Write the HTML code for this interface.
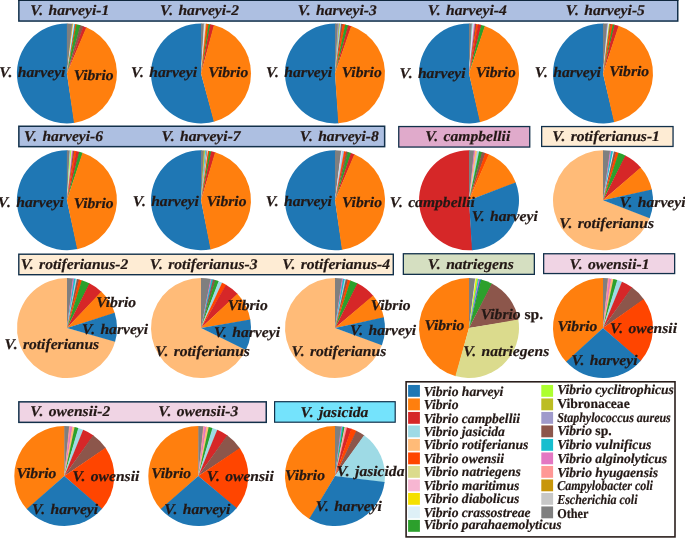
<!DOCTYPE html>
<html><head><meta charset="utf-8"><title>Vibrio pies</title>
<style>html,body{margin:0;padding:0;background:#fff}svg{display:block}text{font-family:"Liberation Serif","Times New Roman",serif;font-weight:bold;font-style:italic;fill:#231815;stroke:#231815;stroke-width:0.2px;text-rendering:geometricPrecision}.n{font-style:normal}</style></head><body>
<svg width="685" height="538" viewBox="0 0 685 538">
<rect width="685" height="538" fill="#fff"/>
<rect x="18.85" y="0.05" width="658.90" height="21.00" fill="#adbfe1" stroke="#12304a" stroke-width="1.5"/>
<rect x="18.85" y="126.25" width="365.80" height="20.40" fill="#adbfe1" stroke="#12304a" stroke-width="1.5"/>
<rect x="398.75" y="126.55" width="131.00" height="20.50" fill="#e0aacb" stroke="#12304a" stroke-width="1.3"/>
<rect x="541.65" y="126.55" width="131.40" height="19.90" fill="#feecd4" stroke="#12304a" stroke-width="1.3"/>
<rect x="18.80" y="254.20" width="374.50" height="20.50" fill="#feecd4" stroke="#12304a" stroke-width="1.4"/>
<rect x="403.35" y="253.75" width="131.00" height="20.60" fill="#d5dfc1" stroke="#12304a" stroke-width="1.3"/>
<rect x="543.65" y="253.75" width="131.00" height="19.80" fill="#f0d4e4" stroke="#12304a" stroke-width="1.3"/>
<rect x="18.85" y="401.85" width="247.40" height="20.50" fill="#f0d4e4" stroke="#12304a" stroke-width="1.5"/>
<rect x="274.60" y="401.70" width="120.60" height="20.50" fill="#74e3fc" stroke="#12304a" stroke-width="1.2"/>
<rect x="406.10" y="381.80" width="268.90" height="155.10" fill="#ffffff" stroke="#2a1e1c" stroke-width="1.6"/>
<rect x="18.1" y="-1" width="660.4" height="1.85" fill="#0b2236"/>
<path d="M66.90,73.40L74.55,122.81A50.0,50.0 0 1 1 67.42,23.40Z" fill="#1f77b4"/>
<path d="M66.90,73.40L66.90,23.40A50.0,50.0 0 0 1 72.56,23.72Z" fill="#7f7f7f"/>
<path d="M66.90,73.40L72.04,23.66A50.0,50.0 0 0 1 73.34,23.82Z" fill="#bcbd22"/>
<path d="M66.90,73.40L72.82,23.75A50.0,50.0 0 0 1 74.03,23.91Z" fill="#f7b6d2"/>
<path d="M66.90,73.40L73.51,23.84A50.0,50.0 0 0 1 74.89,24.04Z" fill="#def0f7"/>
<path d="M66.90,73.40L74.38,23.96A50.0,50.0 0 0 1 75.75,24.19Z" fill="#17becf"/>
<path d="M66.90,73.40L75.24,24.10A50.0,50.0 0 0 1 76.95,24.42Z" fill="#ff4500"/>
<path d="M66.90,73.40L76.44,24.32A50.0,50.0 0 0 1 80.77,25.36Z" fill="#2ca02c"/>
<path d="M66.90,73.40L80.26,25.22A50.0,50.0 0 0 1 83.75,26.33Z" fill="#8c564b"/>
<path d="M66.90,73.40L83.26,26.15A50.0,50.0 0 0 1 86.76,27.51Z" fill="#d62728"/>
<path d="M66.90,73.40L86.28,27.31A50.0,50.0 0 0 1 74.03,122.89Z" fill="#ff7f0e"/>
<path d="M201.00,73.40L214.36,121.58A50.0,50.0 0 1 1 201.52,23.40Z" fill="#1f77b4"/>
<path d="M201.00,73.40L201.00,23.40A50.0,50.0 0 0 1 204.31,23.51Z" fill="#7f7f7f"/>
<path d="M201.00,73.40L203.79,23.48A50.0,50.0 0 0 1 205.01,23.56Z" fill="#c7c7c7"/>
<path d="M201.00,73.40L204.49,23.52A50.0,50.0 0 0 1 205.71,23.62Z" fill="#def0f7"/>
<path d="M201.00,73.40L205.18,23.58A50.0,50.0 0 0 1 206.40,23.69Z" fill="#f7b6d2"/>
<path d="M201.00,73.40L205.88,23.64A50.0,50.0 0 0 1 207.09,23.77Z" fill="#bcbd22"/>
<path d="M201.00,73.40L206.57,23.71A50.0,50.0 0 0 1 209.08,24.06Z" fill="#ff4500"/>
<path d="M201.00,73.40L208.56,23.98A50.0,50.0 0 0 1 210.80,24.37Z" fill="#2ca02c"/>
<path d="M201.00,73.40L210.28,24.27A50.0,50.0 0 0 1 214.36,25.22Z" fill="#d62728"/>
<path d="M201.00,73.40L213.86,25.08A50.0,50.0 0 0 1 213.86,121.72Z" fill="#ff7f0e"/>
<path d="M335.00,73.40L338.84,123.25A50.0,50.0 0 1 1 335.52,23.40Z" fill="#1f77b4"/>
<path d="M335.00,73.40L335.00,23.40A50.0,50.0 0 0 1 338.31,23.51Z" fill="#7f7f7f"/>
<path d="M335.00,73.40L337.79,23.48A50.0,50.0 0 0 1 339.53,23.61Z" fill="#9f9acb"/>
<path d="M335.00,73.40L339.01,23.56A50.0,50.0 0 0 1 340.31,23.68Z" fill="#bcbd22"/>
<path d="M335.00,73.40L339.79,23.63A50.0,50.0 0 0 1 341.70,23.85Z" fill="#9edae5"/>
<path d="M335.00,73.40L341.18,23.78A50.0,50.0 0 0 1 343.25,24.09Z" fill="#8c564b"/>
<path d="M335.00,73.40L342.74,24.00A50.0,50.0 0 0 1 345.65,24.55Z" fill="#ff4500"/>
<path d="M335.00,73.40L345.14,24.44A50.0,50.0 0 0 1 348.61,25.29Z" fill="#2ca02c"/>
<path d="M335.00,73.40L348.11,25.15A50.0,50.0 0 0 1 351.61,26.24Z" fill="#d62728"/>
<path d="M335.00,73.40L351.11,26.07A50.0,50.0 0 0 1 338.31,123.29Z" fill="#ff7f0e"/>
<path d="M469.00,73.40L480.50,122.06A50.0,50.0 0 1 1 469.52,23.40Z" fill="#1f77b4"/>
<path d="M469.00,73.40L469.00,23.40A50.0,50.0 0 0 1 472.31,23.51Z" fill="#7f7f7f"/>
<path d="M469.00,73.40L471.79,23.48A50.0,50.0 0 0 1 473.36,23.59Z" fill="#9edae5"/>
<path d="M469.00,73.40L472.84,23.55A50.0,50.0 0 0 1 474.40,23.69Z" fill="#def0f7"/>
<path d="M469.00,73.40L473.88,23.64A50.0,50.0 0 0 1 475.61,23.84Z" fill="#e377c2"/>
<path d="M469.00,73.40L475.09,23.77A50.0,50.0 0 0 1 476.82,24.02Z" fill="#8c564b"/>
<path d="M469.00,73.40L476.30,23.94A50.0,50.0 0 0 1 478.71,24.35Z" fill="#ff4500"/>
<path d="M469.00,73.40L478.20,24.25A50.0,50.0 0 0 1 481.69,25.04Z" fill="#d62728"/>
<path d="M469.00,73.40L481.18,24.91A50.0,50.0 0 0 1 485.20,26.10Z" fill="#2ca02c"/>
<path d="M469.00,73.40L484.70,25.93A50.0,50.0 0 0 1 479.99,122.18Z" fill="#ff7f0e"/>
<path d="M603.00,73.40L614.59,122.04A50.0,50.0 0 1 1 603.52,23.40Z" fill="#1f77b4"/>
<path d="M603.00,73.40L603.00,23.40A50.0,50.0 0 0 1 607.53,23.61Z" fill="#7f7f7f"/>
<path d="M603.00,73.40L607.01,23.56A50.0,50.0 0 0 1 608.40,23.69Z" fill="#9f9acb"/>
<path d="M603.00,73.40L607.88,23.64A50.0,50.0 0 0 1 609.53,23.83Z" fill="#def0f7"/>
<path d="M603.00,73.40L609.01,23.76A50.0,50.0 0 0 1 610.48,23.96Z" fill="#bcbd22"/>
<path d="M603.00,73.40L609.96,23.89A50.0,50.0 0 0 1 611.34,24.10Z" fill="#8c564b"/>
<path d="M603.00,73.40L610.82,24.02A50.0,50.0 0 0 1 613.31,24.47Z" fill="#ff4500"/>
<path d="M603.00,73.40L612.80,24.37A50.0,50.0 0 0 1 614.93,24.84Z" fill="#2ca02c"/>
<path d="M603.00,73.40L614.42,24.72A50.0,50.0 0 0 1 619.03,26.04Z" fill="#d62728"/>
<path d="M603.00,73.40L618.53,25.87A50.0,50.0 0 0 1 614.08,122.16Z" fill="#ff7f0e"/>
<path d="M66.90,200.30L77.72,249.11A50.0,50.0 0 1 1 67.42,150.30Z" fill="#1f77b4"/>
<path d="M66.90,200.30L66.90,150.30A50.0,50.0 0 0 1 70.13,150.40Z" fill="#7f7f7f"/>
<path d="M66.90,200.30L69.60,150.37A50.0,50.0 0 0 1 70.82,150.45Z" fill="#9edae5"/>
<path d="M66.90,200.30L70.30,150.42A50.0,50.0 0 0 1 71.78,150.54Z" fill="#adff2f"/>
<path d="M66.90,200.30L71.26,150.49A50.0,50.0 0 0 1 72.39,150.60Z" fill="#def0f7"/>
<path d="M66.90,200.30L71.87,150.55A50.0,50.0 0 0 1 73.51,150.74Z" fill="#e377c2"/>
<path d="M66.90,200.30L72.99,150.67A50.0,50.0 0 0 1 74.72,150.92Z" fill="#8c564b"/>
<path d="M66.90,200.30L74.20,150.84A50.0,50.0 0 0 1 76.78,151.29Z" fill="#ff4500"/>
<path d="M66.90,200.30L76.27,151.19A50.0,50.0 0 0 1 79.59,151.94Z" fill="#d62728"/>
<path d="M66.90,200.30L79.08,151.81A50.0,50.0 0 0 1 82.93,152.94Z" fill="#2ca02c"/>
<path d="M66.90,200.30L82.43,152.77A50.0,50.0 0 0 1 77.21,249.23Z" fill="#ff7f0e"/>
<path d="M201.00,200.30L211.05,249.28A50.0,50.0 0 1 1 201.52,150.30Z" fill="#1f77b4"/>
<path d="M201.00,200.30L201.00,150.30A50.0,50.0 0 0 1 204.31,150.41Z" fill="#7f7f7f"/>
<path d="M201.00,200.30L203.79,150.38A50.0,50.0 0 0 1 205.36,150.49Z" fill="#bcbd22"/>
<path d="M201.00,200.30L204.84,150.45A50.0,50.0 0 0 1 205.79,150.53Z" fill="#c7c7c7"/>
<path d="M201.00,200.30L205.27,150.48A50.0,50.0 0 0 1 206.49,150.60Z" fill="#17becf"/>
<path d="M201.00,200.30L205.97,150.55A50.0,50.0 0 0 1 207.09,150.67Z" fill="#def0f7"/>
<path d="M201.00,200.30L206.57,150.61A50.0,50.0 0 0 1 207.70,150.75Z" fill="#8c564b"/>
<path d="M201.00,200.30L207.18,150.68A50.0,50.0 0 0 1 208.48,150.86Z" fill="#def0f7"/>
<path d="M201.00,200.30L207.96,150.79A50.0,50.0 0 0 1 209.85,151.09Z" fill="#ff4500"/>
<path d="M201.00,200.30L209.34,151.00A50.0,50.0 0 0 1 211.74,151.47Z" fill="#2ca02c"/>
<path d="M201.00,200.30L211.22,151.36A50.0,50.0 0 0 1 215.54,152.46Z" fill="#d62728"/>
<path d="M201.00,200.30L215.03,152.31A50.0,50.0 0 0 1 210.54,249.38Z" fill="#ff7f0e"/>
<path d="M335.00,200.30L342.48,249.74A50.0,50.0 0 1 1 335.52,150.30Z" fill="#1f77b4"/>
<path d="M335.00,200.30L335.00,150.30A50.0,50.0 0 0 1 341.53,150.73Z" fill="#7f7f7f"/>
<path d="M335.00,200.30L341.01,150.66A50.0,50.0 0 0 1 342.05,150.80Z" fill="#f7b6d2"/>
<path d="M335.00,200.30L341.53,150.73A50.0,50.0 0 0 1 342.65,150.89Z" fill="#def0f7"/>
<path d="M335.00,200.30L342.13,150.81A50.0,50.0 0 0 1 344.28,151.17Z" fill="#9edae5"/>
<path d="M335.00,200.30L343.77,151.07A50.0,50.0 0 0 1 344.71,151.25Z" fill="#e377c2"/>
<path d="M335.00,200.30L344.20,151.15A50.0,50.0 0 0 1 346.67,151.68Z" fill="#ff4500"/>
<path d="M335.00,200.30L346.16,151.56A50.0,50.0 0 0 1 348.45,152.14Z" fill="#8c564b"/>
<path d="M335.00,200.30L347.94,152.00A50.0,50.0 0 0 1 351.44,153.08Z" fill="#2ca02c"/>
<path d="M335.00,200.30L350.95,152.91A50.0,50.0 0 0 1 354.78,154.38Z" fill="#d62728"/>
<path d="M335.00,200.30L354.30,154.17A50.0,50.0 0 0 1 341.96,249.81Z" fill="#ff7f0e"/>
<path d="M469.00,200.30L472.49,250.18A50.0,50.0 0 1 1 469.52,150.30Z" fill="#d62728"/>
<path d="M469.00,200.30L469.00,150.30A50.0,50.0 0 0 1 474.40,150.59Z" fill="#7f7f7f"/>
<path d="M469.00,200.30L473.88,150.54A50.0,50.0 0 0 1 475.70,150.75Z" fill="#e377c2"/>
<path d="M469.00,200.30L475.18,150.68A50.0,50.0 0 0 1 477.68,151.06Z" fill="#ffbb78"/>
<path d="M469.00,200.30L477.17,150.97A50.0,50.0 0 0 1 479.65,151.45Z" fill="#9edae5"/>
<path d="M469.00,200.30L479.14,151.34A50.0,50.0 0 0 1 482.53,152.17Z" fill="#2ca02c"/>
<path d="M469.00,200.30L482.03,152.03A50.0,50.0 0 0 1 485.69,153.17Z" fill="#8c564b"/>
<path d="M469.00,200.30L485.20,153.00A50.0,50.0 0 0 1 489.18,154.55Z" fill="#ff4500"/>
<path d="M469.00,200.30L488.70,154.34A50.0,50.0 0 0 1 515.86,182.87Z" fill="#ff7f0e"/>
<path d="M469.00,200.30L515.68,182.38A50.0,50.0 0 0 1 471.97,250.21Z" fill="#1f77b4"/>
<path d="M603.00,200.30L649.86,217.73A50.0,50.0 0 1 1 603.52,150.30Z" fill="#ffbb78"/>
<path d="M603.00,200.30L603.00,150.30A50.0,50.0 0 0 1 610.48,150.86Z" fill="#7f7f7f"/>
<path d="M603.00,200.30L609.96,150.79A50.0,50.0 0 0 1 611.34,151.00Z" fill="#e377c2"/>
<path d="M603.00,200.30L610.82,150.92A50.0,50.0 0 0 1 611.85,151.09Z" fill="#9f9acb"/>
<path d="M603.00,200.30L611.34,151.00A50.0,50.0 0 0 1 613.48,151.41Z" fill="#17becf"/>
<path d="M603.00,200.30L612.97,151.30A50.0,50.0 0 0 1 614.50,151.64Z" fill="#def0f7"/>
<path d="M603.00,200.30L613.99,151.52A50.0,50.0 0 0 1 616.45,152.14Z" fill="#8c564b"/>
<path d="M603.00,200.30L615.94,152.00A50.0,50.0 0 0 1 619.11,152.97Z" fill="#ff4500"/>
<path d="M603.00,200.30L618.62,152.80A50.0,50.0 0 0 1 625.78,155.79Z" fill="#2ca02c"/>
<path d="M603.00,200.30L625.31,155.55A50.0,50.0 0 0 1 641.02,167.83Z" fill="#d62728"/>
<path d="M603.00,200.30L640.68,167.43A50.0,50.0 0 0 1 651.91,189.90Z" fill="#ff7f0e"/>
<path d="M603.00,200.30L651.80,189.39A50.0,50.0 0 0 1 649.68,218.22Z" fill="#1f77b4"/>
<path d="M67.00,328.00L115.20,341.28A50.0,50.0 0 1 1 67.52,278.00Z" fill="#ffbb78"/>
<path d="M67.00,328.00L67.00,278.00A50.0,50.0 0 0 1 73.27,278.39Z" fill="#7f7f7f"/>
<path d="M67.00,328.00L72.75,278.33A50.0,50.0 0 0 1 74.48,278.56Z" fill="#e377c2"/>
<path d="M67.00,328.00L73.96,278.49A50.0,50.0 0 0 1 76.11,278.84Z" fill="#17becf"/>
<path d="M67.00,328.00L75.60,278.74A50.0,50.0 0 0 1 77.48,279.11Z" fill="#9edae5"/>
<path d="M67.00,328.00L76.97,279.00A50.0,50.0 0 0 1 79.52,279.59Z" fill="#8c564b"/>
<path d="M67.00,328.00L79.01,279.46A50.0,50.0 0 0 1 82.28,280.39Z" fill="#ff4500"/>
<path d="M67.00,328.00L81.79,280.24A50.0,50.0 0 0 1 89.85,283.53Z" fill="#2ca02c"/>
<path d="M67.00,328.00L89.39,283.29A50.0,50.0 0 0 1 101.61,291.91Z" fill="#d62728"/>
<path d="M67.00,328.00L101.23,291.55A50.0,50.0 0 0 1 114.76,313.21Z" fill="#ff7f0e"/>
<path d="M67.00,328.00L114.61,312.72A50.0,50.0 0 0 1 115.06,341.78Z" fill="#1f77b4"/>
<path d="M201.00,328.00L246.09,349.60A50.0,50.0 0 1 1 201.52,278.00Z" fill="#ffbb78"/>
<path d="M201.00,328.00L201.00,278.00A50.0,50.0 0 0 1 211.05,279.02Z" fill="#7f7f7f"/>
<path d="M201.00,328.00L210.54,278.92A50.0,50.0 0 0 1 211.99,279.22Z" fill="#e377c2"/>
<path d="M201.00,328.00L211.48,279.11A50.0,50.0 0 0 1 213.43,279.57Z" fill="#17becf"/>
<path d="M201.00,328.00L212.93,279.44A50.0,50.0 0 0 1 215.70,280.21Z" fill="#8c564b"/>
<path d="M201.00,328.00L215.20,280.06A50.0,50.0 0 0 1 219.00,281.35Z" fill="#2ca02c"/>
<path d="M201.00,328.00L218.51,281.17A50.0,50.0 0 0 1 222.53,282.87Z" fill="#9edae5"/>
<path d="M201.00,328.00L222.05,282.65A50.0,50.0 0 0 1 226.45,284.96Z" fill="#ff4500"/>
<path d="M201.00,328.00L226.00,284.70A50.0,50.0 0 0 1 237.75,294.09Z" fill="#d62728"/>
<path d="M201.00,328.00L237.39,293.71A50.0,50.0 0 0 1 250.36,320.01Z" fill="#ff7f0e"/>
<path d="M201.00,328.00L250.27,319.49A50.0,50.0 0 0 1 245.86,350.08Z" fill="#1f77b4"/>
<path d="M335.00,328.00L382.07,344.85A50.0,50.0 0 1 1 335.52,278.00Z" fill="#ffbb78"/>
<path d="M335.00,328.00L335.00,278.00A50.0,50.0 0 0 1 342.48,278.56Z" fill="#7f7f7f"/>
<path d="M335.00,328.00L341.96,278.49A50.0,50.0 0 0 1 343.51,278.73Z" fill="#e377c2"/>
<path d="M335.00,328.00L342.99,278.64A50.0,50.0 0 0 1 345.14,279.04Z" fill="#17becf"/>
<path d="M335.00,328.00L344.63,278.94A50.0,50.0 0 0 1 346.33,279.30Z" fill="#9edae5"/>
<path d="M335.00,328.00L345.82,279.19A50.0,50.0 0 0 1 348.28,279.80Z" fill="#8c564b"/>
<path d="M335.00,328.00L347.77,279.66A50.0,50.0 0 0 1 350.95,280.61Z" fill="#ff4500"/>
<path d="M335.00,328.00L350.45,280.45A50.0,50.0 0 0 1 357.85,283.53Z" fill="#2ca02c"/>
<path d="M335.00,328.00L357.39,283.29A50.0,50.0 0 0 1 373.41,295.99Z" fill="#d62728"/>
<path d="M335.00,328.00L373.08,295.59A50.0,50.0 0 0 1 383.93,317.69Z" fill="#ff7f0e"/>
<path d="M335.00,328.00L383.81,317.18A50.0,50.0 0 0 1 381.89,345.35Z" fill="#1f77b4"/>
<path d="M469.00,328.00L455.89,376.25A50.0,50.0 0 0 1 469.52,278.00Z" fill="#ff7f0e"/>
<path d="M469.00,328.00L469.00,278.00A50.0,50.0 0 0 1 475.61,278.44Z" fill="#7f7f7f"/>
<path d="M469.00,328.00L475.09,278.37A50.0,50.0 0 0 1 476.30,278.54Z" fill="#def0f7"/>
<path d="M469.00,328.00L475.79,278.46A50.0,50.0 0 0 1 477.34,278.70Z" fill="#f5e000"/>
<path d="M469.00,328.00L476.82,278.62A50.0,50.0 0 0 1 478.45,278.90Z" fill="#adff2f"/>
<path d="M469.00,328.00L477.94,278.81A50.0,50.0 0 0 1 479.31,279.07Z" fill="#17becf"/>
<path d="M469.00,328.00L478.80,278.97A50.0,50.0 0 0 1 480.33,279.30Z" fill="#e377c2"/>
<path d="M469.00,328.00L479.82,279.19A50.0,50.0 0 0 1 481.60,279.61Z" fill="#1f77b4"/>
<path d="M469.00,328.00L481.10,279.49A50.0,50.0 0 0 1 492.24,283.73Z" fill="#2ca02c"/>
<path d="M469.00,328.00L491.78,283.49A50.0,50.0 0 0 1 518.37,320.09Z" fill="#8c564b"/>
<path d="M469.00,328.00L518.29,319.58A50.0,50.0 0 0 1 455.39,376.11Z" fill="#dbdb8d"/>
<path d="M603.00,328.00L566.55,362.23A50.0,50.0 0 0 1 603.52,278.00Z" fill="#ff7f0e"/>
<path d="M603.00,328.00L603.00,278.00A50.0,50.0 0 0 1 608.40,278.29Z" fill="#7f7f7f"/>
<path d="M603.00,328.00L607.88,278.24A50.0,50.0 0 0 1 609.70,278.45Z" fill="#ff9896"/>
<path d="M603.00,328.00L609.18,278.38A50.0,50.0 0 0 1 611.68,278.76Z" fill="#e377c2"/>
<path d="M603.00,328.00L611.17,278.67A50.0,50.0 0 0 1 613.91,279.20Z" fill="#ffbb78"/>
<path d="M603.00,328.00L613.40,279.09A50.0,50.0 0 0 1 617.70,280.21Z" fill="#2ca02c"/>
<path d="M603.00,328.00L617.20,280.06A50.0,50.0 0 0 1 622.46,281.94Z" fill="#9edae5"/>
<path d="M603.00,328.00L621.97,281.74A50.0,50.0 0 0 1 632.32,287.50Z" fill="#d62728"/>
<path d="M603.00,328.00L631.89,287.19A50.0,50.0 0 0 1 644.01,299.39Z" fill="#8c564b"/>
<path d="M603.00,328.00L643.71,298.96A50.0,50.0 0 0 1 640.45,361.13Z" fill="#ff4500"/>
<path d="M603.00,328.00L640.79,360.74A50.0,50.0 0 0 1 566.20,361.84Z" fill="#1f77b4"/>
<path d="M64.30,476.00L27.14,509.46A50.0,50.0 0 0 1 64.82,426.00Z" fill="#ff7f0e"/>
<path d="M64.30,476.00L64.30,426.00A50.0,50.0 0 0 1 69.61,426.28Z" fill="#7f7f7f"/>
<path d="M64.30,476.00L69.09,426.23A50.0,50.0 0 0 1 70.91,426.44Z" fill="#ff9896"/>
<path d="M64.30,476.00L70.39,426.37A50.0,50.0 0 0 1 72.81,426.73Z" fill="#e377c2"/>
<path d="M64.30,476.00L72.29,426.64A50.0,50.0 0 0 1 75.12,427.19Z" fill="#ffbb78"/>
<path d="M64.30,476.00L74.61,427.07A50.0,50.0 0 0 1 78.75,428.13Z" fill="#2ca02c"/>
<path d="M64.30,476.00L78.25,427.99A50.0,50.0 0 0 1 83.68,429.91Z" fill="#9edae5"/>
<path d="M64.30,476.00L83.19,429.71A50.0,50.0 0 0 1 93.55,435.45Z" fill="#d62728"/>
<path d="M64.30,476.00L93.12,435.14A50.0,50.0 0 0 1 105.80,448.11Z" fill="#8c564b"/>
<path d="M64.30,476.00L105.51,447.68A50.0,50.0 0 0 1 101.69,509.20Z" fill="#ff4500"/>
<path d="M64.30,476.00L102.04,508.80A50.0,50.0 0 0 1 26.79,509.07Z" fill="#1f77b4"/>
<path d="M198.30,476.00L161.08,509.39A50.0,50.0 0 0 1 198.82,426.00Z" fill="#ff7f0e"/>
<path d="M198.30,476.00L198.30,426.00A50.0,50.0 0 0 1 203.70,426.29Z" fill="#7f7f7f"/>
<path d="M198.30,476.00L203.18,426.24A50.0,50.0 0 0 1 205.00,426.45Z" fill="#ff9896"/>
<path d="M198.30,476.00L204.48,426.38A50.0,50.0 0 0 1 206.90,426.74Z" fill="#e377c2"/>
<path d="M198.30,476.00L206.38,426.66A50.0,50.0 0 0 1 209.21,427.20Z" fill="#ffbb78"/>
<path d="M198.30,476.00L208.70,427.09A50.0,50.0 0 0 1 212.92,428.18Z" fill="#2ca02c"/>
<path d="M198.30,476.00L212.42,428.03A50.0,50.0 0 0 1 217.76,429.94Z" fill="#9edae5"/>
<path d="M198.30,476.00L217.27,429.74A50.0,50.0 0 0 1 227.62,435.50Z" fill="#d62728"/>
<path d="M198.30,476.00L227.19,435.19A50.0,50.0 0 0 1 240.09,448.55Z" fill="#8c564b"/>
<path d="M198.30,476.00L239.80,448.11A50.0,50.0 0 0 1 236.38,508.41Z" fill="#ff4500"/>
<path d="M198.30,476.00L236.71,508.01A50.0,50.0 0 0 1 160.74,509.00Z" fill="#1f77b4"/>
<path d="M335.00,476.00L309.70,519.13A50.0,50.0 0 0 1 335.52,426.00Z" fill="#ff7f0e"/>
<path d="M335.00,476.00L335.00,426.00A50.0,50.0 0 0 1 341.53,426.43Z" fill="#7f7f7f"/>
<path d="M335.00,476.00L341.01,426.36A50.0,50.0 0 0 1 342.39,426.55Z" fill="#e377c2"/>
<path d="M335.00,476.00L341.87,426.47A50.0,50.0 0 0 1 343.68,426.76Z" fill="#17becf"/>
<path d="M335.00,476.00L343.17,426.67A50.0,50.0 0 0 1 345.05,427.02Z" fill="#2ca02c"/>
<path d="M335.00,476.00L344.54,426.92A50.0,50.0 0 0 1 345.91,427.20Z" fill="#f7b6d2"/>
<path d="M335.00,476.00L345.40,427.09A50.0,50.0 0 0 1 347.43,427.57Z" fill="#ff9896"/>
<path d="M335.00,476.00L346.93,427.44A50.0,50.0 0 0 1 351.69,428.87Z" fill="#d62728"/>
<path d="M335.00,476.00L351.20,428.70A50.0,50.0 0 0 1 356.76,430.98Z" fill="#ff4500"/>
<path d="M335.00,476.00L356.29,430.76A50.0,50.0 0 0 1 364.46,435.60Z" fill="#8c564b"/>
<path d="M335.00,476.00L364.04,435.29A50.0,50.0 0 0 1 384.56,482.61Z" fill="#9edae5"/>
<path d="M335.00,476.00L384.63,482.09A50.0,50.0 0 0 1 309.25,518.86Z" fill="#1f77b4"/>
<rect x="408.1" y="384.95" width="11.8" height="11.85" fill="#1f77b4"/>
<rect x="408.1" y="398.45" width="11.8" height="11.85" fill="#ff7f0e"/>
<rect x="408.1" y="411.95" width="11.8" height="11.85" fill="#d62728"/>
<rect x="408.1" y="425.45" width="11.8" height="11.85" fill="#9edae5"/>
<rect x="408.1" y="438.95" width="11.8" height="11.85" fill="#ffbb78"/>
<rect x="408.1" y="452.45" width="11.8" height="11.85" fill="#ff4500"/>
<rect x="408.1" y="465.95" width="11.8" height="11.85" fill="#dbdb8d"/>
<rect x="408.1" y="479.45" width="11.8" height="11.85" fill="#f7b6d2"/>
<rect x="408.1" y="492.95" width="11.8" height="11.85" fill="#f5e000"/>
<rect x="408.1" y="506.45" width="11.8" height="11.85" fill="#def0f7"/>
<rect x="408.1" y="519.95" width="11.8" height="11.85" fill="#2ca02c"/>
<rect x="541.3" y="384.95" width="11.8" height="11.85" fill="#adff2f"/>
<rect x="541.3" y="398.45" width="11.8" height="11.85" fill="#bcbd22"/>
<rect x="541.3" y="411.95" width="11.8" height="11.85" fill="#9f9acb"/>
<rect x="541.3" y="425.45" width="11.8" height="11.85" fill="#8c564b"/>
<rect x="541.3" y="438.95" width="11.8" height="11.85" fill="#17becf"/>
<rect x="541.3" y="452.45" width="11.8" height="11.85" fill="#e377c2"/>
<rect x="541.3" y="465.95" width="11.8" height="11.85" fill="#ff9896"/>
<rect x="541.3" y="479.45" width="11.8" height="11.85" fill="#c8960a"/>
<rect x="541.3" y="492.95" width="11.8" height="11.85" fill="#c7c7c7"/>
<rect x="541.3" y="506.45" width="11.8" height="11.85" fill="#7f7f7f"/>
<text x="69.70" y="15.1" font-size="14.80" word-spacing="1.4" text-anchor="middle" transform="matrix(1.054 0 0 1 -3.764 0)">V<tspan dx="0.7">.</tspan> harveyi-1</text>
<text x="199.55" y="15.1" font-size="14.80" word-spacing="1.4" text-anchor="middle" transform="matrix(1.054 0 0 1 -10.776 0)">V<tspan dx="0.7">.</tspan> harveyi-2</text>
<text x="337.20" y="15.1" font-size="14.80" word-spacing="1.4" text-anchor="middle" transform="matrix(1.054 0 0 1 -18.209 0)">V<tspan dx="0.7">.</tspan> harveyi-3</text>
<text x="467.20" y="15.1" font-size="14.80" word-spacing="1.4" text-anchor="middle" transform="matrix(1.054 0 0 1 -25.229 0)">V<tspan dx="0.7">.</tspan> harveyi-4</text>
<text x="605.35" y="15.1" font-size="14.80" word-spacing="1.4" text-anchor="middle" transform="matrix(1.054 0 0 1 -32.689 0)">V<tspan dx="0.7">.</tspan> harveyi-5</text>
<text x="63.55" y="140.6" font-size="14.80" word-spacing="1.4" text-anchor="middle" transform="matrix(1.054 0 0 1 -3.432 0)">V<tspan dx="0.7">.</tspan> harveyi-6</text>
<text x="201.10" y="140.6" font-size="14.80" word-spacing="1.4" text-anchor="middle" transform="matrix(1.054 0 0 1 -10.859 0)">V<tspan dx="0.7">.</tspan> harveyi-7</text>
<text x="339.30" y="140.6" font-size="14.80" word-spacing="1.4" text-anchor="middle" transform="matrix(1.054 0 0 1 -18.322 0)">V<tspan dx="0.7">.</tspan> harveyi-8</text>
<text x="467.70" y="140.6" font-size="14.80" word-spacing="1.4" text-anchor="middle" transform="matrix(1.054 0 0 1 -25.256 0)">V<tspan dx="0.7">.</tspan> campbellii</text>
<text x="606.10" y="140.6" font-size="14.80" word-spacing="1.4" text-anchor="middle" transform="matrix(1.054 0 0 1 -32.729 0)">V<tspan dx="0.7">.</tspan> rotiferianus-1</text>
<text x="74.50" y="268.9" font-size="14.80" word-spacing="1.4" text-anchor="middle" transform="matrix(1.054 0 0 1 -4.023 0)">V<tspan dx="0.7">.</tspan> rotiferianus-2</text>
<text x="203.65" y="268.9" font-size="14.80" word-spacing="1.4" text-anchor="middle" transform="matrix(1.054 0 0 1 -10.997 0)">V<tspan dx="0.7">.</tspan> rotiferianus-3</text>
<text x="336.15" y="268.9" font-size="14.80" word-spacing="1.4" text-anchor="middle" transform="matrix(1.054 0 0 1 -18.152 0)">V<tspan dx="0.7">.</tspan> rotiferianus-4</text>
<text x="470.75" y="268.9" font-size="14.80" word-spacing="1.4" text-anchor="middle" transform="matrix(1.054 0 0 1 -25.421 0)">V<tspan dx="0.7">.</tspan> natriegens</text>
<text x="609.50" y="268.9" font-size="14.80" word-spacing="1.4" text-anchor="middle" transform="matrix(1.054 0 0 1 -32.913 0)">V<tspan dx="0.7">.</tspan> owensii-1</text>
<text x="70.35" y="416.3" font-size="14.80" word-spacing="1.4" text-anchor="middle" transform="matrix(1.054 0 0 1 -3.799 0)">V<tspan dx="0.7">.</tspan> owensii-2</text>
<text x="198.30" y="416.3" font-size="14.80" word-spacing="1.4" text-anchor="middle" transform="matrix(1.054 0 0 1 -10.708 0)">V<tspan dx="0.7">.</tspan> owensii-3</text>
<text x="334.50" y="416.6" font-size="14.80" word-spacing="1.4" text-anchor="middle" transform="matrix(1.054 0 0 1 -18.063 0)">V<tspan dx="0.7">.</tspan> jasicida</text>
<text x="32.40" y="76.6" font-size="14.80" word-spacing="1.4" text-anchor="middle" transform="matrix(1.054 0 0 1 -1.750 0)">V<tspan dx="0.7">.</tspan> harveyi</text>
<text x="93.60" y="79.9" font-size="14.80" text-anchor="middle" transform="matrix(1.054 0 0 1 -5.054 0)">Vibrio</text>
<text x="164.00" y="76.6" font-size="14.80" word-spacing="1.4" text-anchor="middle" transform="matrix(1.054 0 0 1 -8.856 0)">V<tspan dx="0.7">.</tspan> harveyi</text>
<text x="228.30" y="76.6" font-size="14.80" text-anchor="middle" transform="matrix(1.054 0 0 1 -12.328 0)">Vibrio</text>
<text x="299.00" y="76.6" font-size="14.80" word-spacing="1.4" text-anchor="middle" transform="matrix(1.054 0 0 1 -16.146 0)">V<tspan dx="0.7">.</tspan> harveyi</text>
<text x="361.75" y="76.6" font-size="14.80" text-anchor="middle" transform="matrix(1.054 0 0 1 -19.535 0)">Vibrio</text>
<text x="432.55" y="77.9" font-size="14.80" word-spacing="1.4" text-anchor="middle" transform="matrix(1.054 0 0 1 -23.358 0)">V<tspan dx="0.7">.</tspan> harveyi</text>
<text x="495.80" y="76.6" font-size="14.80" text-anchor="middle" transform="matrix(1.054 0 0 1 -26.773 0)">Vibrio</text>
<text x="567.90" y="77.1" font-size="14.80" word-spacing="1.4" text-anchor="middle" transform="matrix(1.054 0 0 1 -30.667 0)">V<tspan dx="0.7">.</tspan> harveyi</text>
<text x="629.20" y="76.1" font-size="14.80" text-anchor="middle" transform="matrix(1.054 0 0 1 -33.977 0)">Vibrio</text>
<text x="30.90" y="206.7" font-size="14.80" word-spacing="1.4" text-anchor="middle" transform="matrix(1.054 0 0 1 -1.669 0)">V<tspan dx="0.7">.</tspan> harveyi</text>
<text x="93.60" y="207.9" font-size="14.80" text-anchor="middle" transform="matrix(1.054 0 0 1 -5.054 0)">Vibrio</text>
<text x="165.80" y="206.2" font-size="14.80" word-spacing="1.4" text-anchor="middle" transform="matrix(1.054 0 0 1 -8.953 0)">V<tspan dx="0.7">.</tspan> harveyi</text>
<text x="226.50" y="206.2" font-size="14.80" text-anchor="middle" transform="matrix(1.054 0 0 1 -12.231 0)">Vibrio</text>
<text x="298.70" y="206.2" font-size="14.80" word-spacing="1.4" text-anchor="middle" transform="matrix(1.054 0 0 1 -16.130 0)">V<tspan dx="0.7">.</tspan> harveyi</text>
<text x="362.00" y="206.7" font-size="14.80" text-anchor="middle" transform="matrix(1.054 0 0 1 -19.548 0)">Vibrio</text>
<text x="432.35" y="207.4" font-size="14.80" word-spacing="1.4" text-anchor="middle" transform="matrix(1.054 0 0 1 -23.347 0)">V<tspan dx="0.7">.</tspan> campbellii</text>
<text x="504.70" y="220.5" font-size="14.80" word-spacing="1.4" text-anchor="middle" transform="matrix(1.054 0 0 1 -27.254 0)">V<tspan dx="0.7">.</tspan> harveyi</text>
<text x="652.50" y="206.7" font-size="14.80" word-spacing="1.4" text-anchor="middle" transform="matrix(1.054 0 0 1 -35.235 0)">V<tspan dx="0.7">.</tspan> harveyi</text>
<text x="606.70" y="228" font-size="14.80" word-spacing="1.4" text-anchor="middle" transform="matrix(1.054 0 0 1 -32.762 0)">V<tspan dx="0.7">.</tspan> rotiferianus</text>
<text x="116.20" y="307.3" font-size="14.80" text-anchor="middle" transform="matrix(1.054 0 0 1 -6.275 0)">Vibrio</text>
<text x="115.05" y="334.2" font-size="14.80" word-spacing="1.4" text-anchor="middle" transform="matrix(1.054 0 0 1 -6.213 0)">V<tspan dx="0.7">.</tspan> harveyi</text>
<text x="51.85" y="348.8" font-size="14.80" word-spacing="1.4" text-anchor="middle" transform="matrix(1.054 0 0 1 -2.800 0)">V<tspan dx="0.7">.</tspan> rotiferianus</text>
<text x="247.80" y="310.3" font-size="14.80" text-anchor="middle" transform="matrix(1.054 0 0 1 -13.381 0)">Vibrio</text>
<text x="246.95" y="336.7" font-size="14.80" word-spacing="1.4" text-anchor="middle" transform="matrix(1.054 0 0 1 -13.335 0)">V<tspan dx="0.7">.</tspan> harveyi</text>
<text x="202.60" y="356.1" font-size="14.80" word-spacing="1.4" text-anchor="middle" transform="matrix(1.054 0 0 1 -10.940 0)">V<tspan dx="0.7">.</tspan> rotiferianus</text>
<text x="390.65" y="310.3" font-size="14.80" text-anchor="middle" transform="matrix(1.054 0 0 1 -21.095 0)">Vibrio</text>
<text x="383.15" y="334.9" font-size="14.80" word-spacing="1.4" text-anchor="middle" transform="matrix(1.054 0 0 1 -20.690 0)">V<tspan dx="0.7">.</tspan> harveyi</text>
<text x="338.90" y="356.1" font-size="14.80" word-spacing="1.4" text-anchor="middle" transform="matrix(1.054 0 0 1 -18.301 0)">V<tspan dx="0.7">.</tspan> rotiferianus</text>
<text x="444.40" y="329.7" font-size="14.80" text-anchor="middle" transform="matrix(1.054 0 0 1 -23.998 0)">Vibrio</text>
<text x="511.95" y="318.6" font-size="14.80" text-anchor="middle" transform="matrix(1.054 0 0 1 -27.645 0)">Vibrio <tspan class="n">sp.</tspan></text>
<text x="506.20" y="356.1" font-size="14.80" word-spacing="1.4" text-anchor="middle" transform="matrix(1.054 0 0 1 -27.335 0)">V<tspan dx="0.7">.</tspan> natriegens</text>
<text x="577.45" y="330.9" font-size="14.80" text-anchor="middle" transform="matrix(1.054 0 0 1 -31.182 0)">Vibrio</text>
<text x="643.55" y="332.9" font-size="14.80" word-spacing="1.4" text-anchor="middle" transform="matrix(1.054 0 0 1 -34.752 0)">V<tspan dx="0.7">.</tspan> owensii</text>
<text x="604.45" y="365.1" font-size="14.80" word-spacing="1.4" text-anchor="middle" transform="matrix(1.054 0 0 1 -32.640 0)">V<tspan dx="0.7">.</tspan> harveyi</text>
<text x="36.45" y="477.9" font-size="14.80" text-anchor="middle" transform="matrix(1.054 0 0 1 -1.968 0)">Vibrio</text>
<text x="105.90" y="481.4" font-size="14.80" word-spacing="1.4" text-anchor="middle" transform="matrix(1.054 0 0 1 -5.719 0)">V<tspan dx="0.7">.</tspan> owensii</text>
<text x="65.10" y="513.6" font-size="14.80" word-spacing="1.4" text-anchor="middle" transform="matrix(1.054 0 0 1 -3.515 0)">V<tspan dx="0.7">.</tspan> harveyi</text>
<text x="171.20" y="477.6" font-size="14.80" text-anchor="middle" transform="matrix(1.054 0 0 1 -9.245 0)">Vibrio</text>
<text x="240.30" y="481.4" font-size="14.80" word-spacing="1.4" text-anchor="middle" transform="matrix(1.054 0 0 1 -12.976 0)">V<tspan dx="0.7">.</tspan> owensii</text>
<text x="197.35" y="513.6" font-size="14.80" word-spacing="1.4" text-anchor="middle" transform="matrix(1.054 0 0 1 -10.657 0)">V<tspan dx="0.7">.</tspan> harveyi</text>
<text x="305.05" y="480" font-size="14.80" text-anchor="middle" transform="matrix(1.054 0 0 1 -16.473 0)">Vibrio</text>
<text x="370.55" y="475.9" font-size="14.80" word-spacing="1.4" text-anchor="middle" transform="matrix(1.054 0 0 1 -20.010 0)">V<tspan dx="0.7">.</tspan> jasicida</text>
<text x="348.80" y="511.1" font-size="14.80" word-spacing="1.4" text-anchor="middle" transform="matrix(1.054 0 0 1 -18.835 0)">V<tspan dx="0.7">.</tspan> harveyi</text>
<text x="423.7" y="395.6" font-size="13.6">Vibrio harveyi</text>
<text x="423.7" y="409.07" font-size="13.6">Vibrio</text>
<text x="423.7" y="422.54" font-size="13.6">Vibrio campbellii</text>
<text x="423.7" y="436.01" font-size="13.6">Vibrio jasicida</text>
<text x="423.7" y="449.48" font-size="13.6">Vibrio rotiferianus</text>
<text x="423.7" y="462.95" font-size="13.6">Vibrio owensii</text>
<text x="423.7" y="476.42" font-size="13.6">Vibrio natriegens</text>
<text x="423.7" y="489.89" font-size="13.6">Vibrio maritimus</text>
<text x="423.7" y="503.36" font-size="13.6">Vibrio diabolicus</text>
<text x="423.7" y="516.83" font-size="13.6">Vibrio crassostreae</text>
<text x="423.7" y="529.3" font-size="13.6">Vibrio parahaemolyticus</text>
<text x="557.2" y="394.3" font-size="13.6">Vibrio cyclitrophicus</text>
<text x="557.2" y="408.0" font-size="13.6"><tspan class="n">Vibronaceae</tspan></text>
<text x="557.2" y="421.7" font-size="13.6" textLength="113.6" lengthAdjust="spacingAndGlyphs">Staphylococcus aureus</text>
<text x="557.2" y="435.4" font-size="13.6">Vibrio <tspan class="n">sp.</tspan></text>
<text x="557.2" y="449.1" font-size="13.6">Vibrio vulnificus</text>
<text x="557.2" y="462.8" font-size="13.6">Vibrio alginolyticus</text>
<text x="557.2" y="476.5" font-size="13.6">Vibrio hyugaensis</text>
<text x="557.2" y="490.2" font-size="13.6" textLength="95.7" lengthAdjust="spacingAndGlyphs">Campylobacter coli</text>
<text x="557.2" y="503.9" font-size="13.6" textLength="80.3" lengthAdjust="spacingAndGlyphs">Escherichia coli</text>
<text x="557.2" y="517.6" font-size="13.6" textLength="31.2" lengthAdjust="spacingAndGlyphs"><tspan class="n">Other</tspan></text>
</svg></body></html>
